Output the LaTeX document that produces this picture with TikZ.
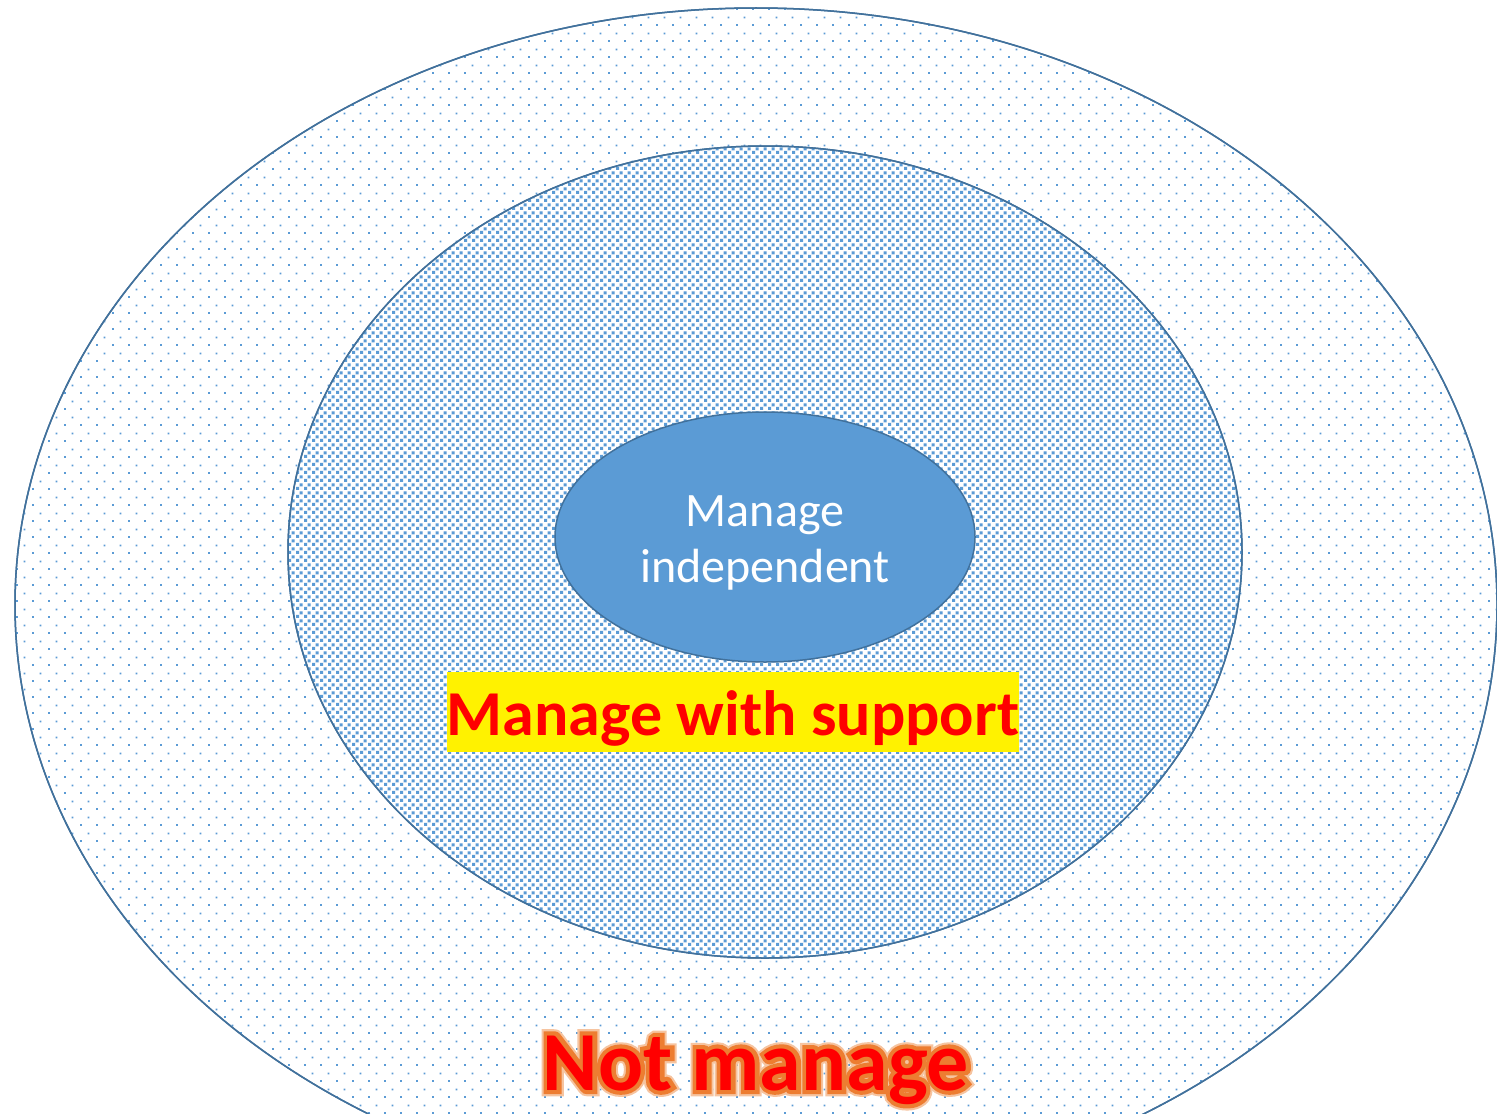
\documentclass[tikz,border=0pt]{standalone}
\usepackage{fontspec}
\setmainfont{Carlito}
\newfontface\outlinefont[FakeBold=10]{Carlito Bold}
\newfontface\glowfont[FakeBold=15]{Carlito Bold}
\usetikzlibrary{shapes.geometric,patterns}
\definecolor{dotblue}{HTML}{5B9BD5}
\definecolor{edgeblue}{HTML}{41719C}
\definecolor{glow}{HTML}{ED7D31}
\definecolor{glowlight}{HTML}{F6C4A0}
\pgfdeclarepatternformonly{sparsedots}{\pgfpointorigin}{\pgfqpoint{8pt}{8pt}}{\pgfqpoint{8pt}{8pt}}{%
  \pgfpathrectangle{\pgfqpoint{0pt}{0pt}}{\pgfqpoint{1pt}{1pt}}%
  \pgfpathrectangle{\pgfqpoint{4pt}{4pt}}{\pgfqpoint{1pt}{1pt}}%
  \pgfusepath{fill}}
\pgfdeclarepatternformonly{densesquares}{\pgfpointorigin}{\pgfqpoint{4pt}{4pt}}{\pgfqpoint{4pt}{4pt}}{%
  \pgfpathrectangle{\pgfqpoint{0pt}{0pt}}{\pgfqpoint{1.75pt}{1.75pt}}%
  \pgfpathrectangle{\pgfqpoint{2pt}{2pt}}{\pgfqpoint{1.75pt}{1.75pt}}%
  \pgfusepath{fill}}
\tikzset{
  ring/.style={ellipse, draw=edgeblue, line width=0.75pt, inner sep=0pt, outer sep=0pt},
  notlabel/.style={inner sep=0pt, anchor=base}
}
\begin{document}
\begin{tikzpicture}[x=0.5pt,y=-0.5pt]
\useasboundingbox (0,0) rectangle (1497,1113);
\fill[white] (0,0) rectangle (1497,1113);
% outer ellipse
\node[ring, fill=white, minimum width=741pt, minimum height=597pt] (outerfill) at (756,605) {};
\node[ring, pattern=sparsedots, pattern color=dotblue, minimum width=741pt, minimum height=597pt] (outer) at (756,605) {};
% middle ellipse
\node[ring, fill=white, minimum width=477pt, minimum height=406pt] (midfill) at (765,552) {};
\node[ring, pattern=densesquares, pattern color=dotblue, minimum width=477pt, minimum height=406pt] (middle) at (765,552) {};
% inner ellipse
\node[ring, fill=dotblue, minimum width=210pt, minimum height=125pt] (inner) at (765,537) {};
\node[text=white, align=center, font=\fontsize{24}{28}\selectfont] (indep) at (765,543) {Manage\\independent};
% support label
\node[fill=yellow, inner sep=0pt, minimum width=286pt, minimum height=40pt] (support) at (733,712) {};
\node[text=red, inner sep=0pt, anchor=base, font=\bfseries\fontsize{32}{36}\selectfont] (supporttext) at (733,735) {Manage with support};
% not manage label with outline
\node[notlabel, text=glowlight, font=\glowfont\fontsize{42}{46}\selectfont] (notglow) at (756,1090) {Not manage};
\node[notlabel, text=glow, font=\outlinefont\fontsize{42}{46}\selectfont] (notedge) at (756,1090) {Not manage};
\node[notlabel, text=red, font=\bfseries\fontsize{42}{46}\selectfont] (notm) at (756,1090) {Not manage};
\end{tikzpicture}
\end{document}
